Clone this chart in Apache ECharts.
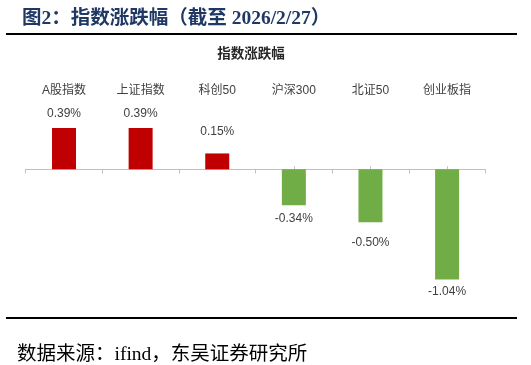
<!DOCTYPE html>
<html>
<head>
<meta charset="utf-8">
<script src="https://cdn.jsdelivr.net/npm/echarts@6/dist/echarts.min.js"></script>
<style>
html,body{margin:0;padding:0;background:#fff;}
#chart{width:531px;height:365px;}
</style>
</head>
<body>
<div id="chart"></div>
<script>
// ---- data ----
const categories = ['A股指数', '上证指数', '科创50', '沪深300', '北证50', '创业板指'];
const changes = [0.39, 0.39, 0.15, -0.34, -0.50, -1.04];
const figureTitle = '图2：指数涨跌幅（截至 2026/2/27）';
const chartTitle = '指数涨跌幅';
const sourceText = '数据来源：ifind，东吴证券研究所';

// ---- presentation ----
const labelGaps = [8, 8, 16, 7, 14, 6];
const seriesData = changes.map((v, i) => ({
  value: v,
  itemStyle: { color: v >= 0 ? '#c00000' : '#70ad47' },
  label: { position: v >= 0 ? 'top' : 'bottom', distance: labelGaps[i] }
}));

const chart = echarts.init(document.getElementById('chart'), null, { renderer: 'canvas' });
const serif = '"Liberation Serif", "Noto Sans CJK SC", serif';
const sans = '"Liberation Sans", "Noto Sans CJK SC", sans-serif';

chart.setOption({
  animation: false,
  backgroundColor: '#fff',
  title: [
    { text: figureTitle, left: 17, top: 4,
      textStyle: { fontFamily: serif, fontSize: 19.5, fontWeight: 'bold', color: '#1f3864' } },
    { text: chartTitle, left: 246, top: 43, textAlign: 'center',
      textStyle: { fontFamily: sans, fontSize: 13.5, fontWeight: 'bold', color: '#262626' } },
    { text: sourceText, left: 12, top: 340,
      textStyle: { fontFamily: serif, fontSize: 19.5, fontWeight: 'normal', color: '#000' } }
  ],
  graphic: [
    { type: 'rect', shape: { x: 6, y: 33, width: 511, height: 2 }, style: { fill: '#000' } },
    { type: 'rect', shape: { x: 6, y: 317, width: 511, height: 2 }, style: { fill: '#000' } }
  ],
  grid: { left: 25.7, right: 45.6, top: 105.8, bottom: 68.6 },
  xAxis: [
    { type: 'category', data: categories, position: 'bottom',
      axisLine: { onZero: true, lineStyle: { color: '#bfbfbf', width: 1 } },
      axisTick: { show: true, inside: false, length: 4, alignWithLabel: false, lineStyle: { color: '#bfbfbf' } },
      axisLabel: { show: false }, splitLine: { show: false } },
    { type: 'category', data: categories, position: 'bottom', yAxisIndex: 1,
      axisLine: { show: false, onZero: true },
      axisTick: { show: true, inside: true, length: 3, alignWithLabel: true, lineStyle: { color: '#bfbfbf' } },
      axisLabel: { show: false }, splitLine: { show: false } },
    { type: 'category', data: categories, position: 'top',
      axisLine: { show: false, onZero: false },
      axisTick: { show: false },
      axisLabel: { show: true, margin: 9, fontFamily: sans, fontSize: 12, color: '#404040' },
      splitLine: { show: false } }
  ],
  yAxis: [
    { type: 'value', min: -1.2, max: 0.6, show: false, splitLine: { show: false } },
    { type: 'value', min: -1.2, max: 0.6, show: false, splitLine: { show: false } }
  ],
  series: [{
    type: 'bar',
    xAxisIndex: 0,
    yAxisIndex: 0,
    barWidth: 24,
    data: seriesData,
    label: {
      show: true,
      fontFamily: sans,
      fontSize: 12,
      color: '#404040',
      formatter: p => p.value.toFixed(2) + '%'
    }
  }]
});
</script>
</body>
</html>
